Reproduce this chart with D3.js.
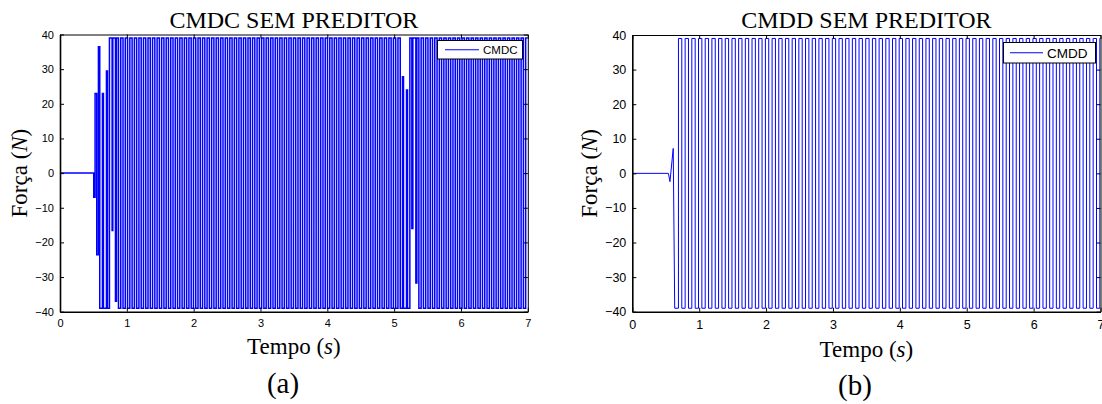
<!DOCTYPE html>
<html>
<head>
<meta charset="utf-8">
<script src="https://cdn.jsdelivr.net/npm/d3@7"></script>
<style>
  body { margin: 0; background: #fff; }
  svg { display: block; }
</style>
</head>
<body>
<svg id="fig" width="1102" height="404"></svg>
<script>
// values
const xTicks = [0, 1, 2, 3, 4, 5, 6, 7];
const yTicks = [-40, -30, -20, -10, 0, 10, 20, 30, 40];
const satHigh = 39;
const satLow = -39;

// CMDC: irregular stretches as [time, new level], regular stretches as switching times
const cmdcStart = [[0, 0], [0.505, -7], [0.525, 23], [0.55, -23.6], [0.575, 36.5], [0.595, -39],
  [0.635, 23], [0.65, -39], [0.695, 29.5], [0.71, -39], [0.74, 39], [0.78, -16.6], [0.79, 39],
  [0.83, -37], [0.845, 39]];
const cmdcSwitch1 = [0.875, 0.909, 0.943, 0.977, 1.011, 1.045, 1.079, 1.113, 1.147, 1.181, 1.215,
  1.249, 1.283, 1.317, 1.351, 1.385, 1.419, 1.453, 1.487, 1.521, 1.555, 1.589, 1.623, 1.657, 1.691,
  1.725, 1.759, 1.793, 1.827, 1.861, 1.895, 1.929, 1.963, 1.997, 2.031, 2.065, 2.099, 2.133, 2.167,
  2.201, 2.235, 2.269, 2.303, 2.337, 2.371, 2.405, 2.439, 2.473, 2.507, 2.541, 2.575, 2.609, 2.643,
  2.677, 2.711, 2.745, 2.779, 2.813, 2.847, 2.881, 2.915, 2.949, 2.983, 3.017, 3.051, 3.085, 3.119,
  3.153, 3.187, 3.221, 3.255, 3.289, 3.323, 3.357, 3.391, 3.425, 3.459, 3.493, 3.527, 3.561, 3.595,
  3.629, 3.663, 3.697, 3.731, 3.765, 3.799, 3.833, 3.867, 3.901, 3.935, 3.969, 4.003, 4.037, 4.071,
  4.105, 4.139, 4.173, 4.207, 4.241, 4.275, 4.309, 4.343, 4.377, 4.411, 4.445, 4.479, 4.513, 4.547,
  4.581, 4.615, 4.649, 4.683, 4.717, 4.751, 4.785, 4.819, 4.853, 4.887, 4.921, 4.955, 4.989, 5.023,
  5.057, 5.091];
const cmdcMid = [[5.125, 27.8], [5.14, -39], [5.185, 24], [5.2, -39], [5.235, 39], [5.265, -16],
  [5.28, 39], [5.325, -31.7], [5.34, 39]];
const cmdcSwitch2 = [5.370, 5.404, 5.438, 5.472, 5.506, 5.540, 5.574, 5.608, 5.642, 5.676, 5.710,
  5.744, 5.778, 5.812, 5.846, 5.880, 5.914, 5.948, 5.982, 6.016, 6.050, 6.084, 6.118, 6.152, 6.186,
  6.220, 6.254, 6.288, 6.322, 6.356, 6.390, 6.424, 6.458, 6.492, 6.526, 6.560, 6.594, 6.628, 6.662,
  6.696, 6.730, 6.764, 6.798, 6.832, 6.866, 6.900, 6.934, 6.968];

// CMDD: small wiggle as plain points, then switching times
const cmddStart = [[0, 0], [0.54, 0], [0.563, -2.4], [0.612, 7.2], [0.634, -39]];
const cmddSwitch = [0.69, 0.74, 0.79, 0.84, 0.89, 0.94, 0.99,
  1.04, 1.09, 1.14, 1.19, 1.24, 1.29, 1.34, 1.39, 1.44, 1.49, 1.54, 1.59, 1.64, 1.69, 1.74, 1.79, 1.84, 1.89, 1.94, 1.99,
  2.04, 2.09, 2.14, 2.19, 2.24, 2.29, 2.34, 2.39, 2.44, 2.49, 2.54, 2.59, 2.64, 2.69, 2.74, 2.79, 2.84, 2.89, 2.94, 2.99,
  3.04, 3.09, 3.14, 3.19, 3.24, 3.29, 3.34, 3.39, 3.44, 3.49, 3.54, 3.59, 3.64, 3.69, 3.74, 3.79, 3.84, 3.89, 3.94, 3.99,
  4.04, 4.09, 4.14, 4.19, 4.24, 4.29, 4.34, 4.39, 4.44, 4.49, 4.54, 4.59, 4.64, 4.69, 4.74, 4.79, 4.84, 4.89, 4.94, 4.99,
  5.04, 5.09, 5.14, 5.19, 5.24, 5.29, 5.34, 5.39, 5.44, 5.49, 5.54, 5.59, 5.64, 5.69, 5.74, 5.79, 5.84, 5.89, 5.94, 5.99,
  6.04, 6.09, 6.14, 6.19, 6.24, 6.29, 6.34, 6.39, 6.44, 6.49, 6.54, 6.59, 6.64, 6.69, 6.74, 6.79, 6.84, 6.89, 6.94, 6.99];

const tEnd = 7;
const serif = "'Liberation Serif', 'Times New Roman', serif";
const sans = "'Liberation Sans', Arial, sans-serif";

// turn steps / switches into polyline vertices
function addSteps(pts, steps) {
  steps.forEach(([t, v]) => {
    const prev = pts[pts.length - 1][1];
    pts.push([t, prev], [t, v]);
  });
}
function addSwitches(pts, times) {
  times.forEach(t => {
    const prev = pts[pts.length - 1][1];
    const next = prev === satHigh ? satLow : satHigh;
    pts.push([t, prev], [t, next]);
  });
}

const cmdcPts = [cmdcStart[0]];
addSteps(cmdcPts, cmdcStart.slice(1));
addSwitches(cmdcPts, cmdcSwitch1);
addSteps(cmdcPts, cmdcMid);
addSwitches(cmdcPts, cmdcSwitch2);
cmdcPts.push([tEnd, cmdcPts[cmdcPts.length - 1][1]]);

const cmddPts = cmddStart.slice();
addSwitches(cmddPts, cmddSwitch);
cmddPts.push([tEnd, cmddPts[cmddPts.length - 1][1]]);

const svg = d3.select("#fig");
svg.append("rect").attr("width", 1102).attr("height", 404).attr("fill", "#fff");

function panel(cfg) {
  const x = d3.scaleLinear().domain([0, 7]).range([cfg.left, cfg.right]);
  const y = d3.scaleLinear().domain([-40, 40]).range([cfg.bottom, cfg.top]);
  const g = svg.append("g");

  g.append("clipPath").attr("id", cfg.id + "-clip")
    .append("rect")
    .attr("x", cfg.left).attr("y", cfg.top)
    .attr("width", cfg.right - cfg.left).attr("height", cfg.bottom - cfg.top);

  g.append("path")
    .datum(cfg.points)
    .attr("clip-path", `url(#${cfg.id}-clip)`)
    .attr("fill", "none")
    .attr("stroke", "#0000ff")
    .attr("stroke-width", cfg.lineW)
    .attr("d", d3.line().x(d => x(d[0])).y(d => y(d[1])));

  // box with inward ticks on all sides
  const tl = 4;
  const fmt = d3.format("d");
  const axB = g.append("g").attr("transform", `translate(0,${cfg.bottom})`)
    .call(d3.axisBottom(x).tickValues(xTicks).tickFormat(fmt).tickSizeInner(-tl).tickSizeOuter(0).tickPadding(8));
  const axL = g.append("g").attr("transform", `translate(${cfg.left},0)`)
    .call(d3.axisLeft(y).tickValues(yTicks).tickFormat(fmt).tickSizeInner(-tl).tickSizeOuter(0).tickPadding(6));
  const axT = g.append("g").attr("transform", `translate(0,${cfg.top})`)
    .call(d3.axisTop(x).tickValues(xTicks).tickSizeInner(-tl).tickSizeOuter(0).tickFormat(""));
  const axR = g.append("g").attr("transform", `translate(${cfg.right},0)`)
    .call(d3.axisRight(y).tickValues(yTicks).tickSizeInner(-tl).tickSizeOuter(0).tickFormat(""));
  [axB, axL].forEach(a => a.select(".domain").attr("stroke-width", 1.6));
  [axT, axR].forEach(a => a.select(".domain").attr("stroke-width", 1));
  [axB, axL, axT, axR].forEach(a => a.selectAll(".tick line").attr("stroke", "#000"));
  [axB, axL].forEach(a => a.selectAll("text")
    .attr("font-family", sans).attr("font-size", cfg.tickSize).attr("fill", "#000"));

  // legend
  const lg = g.append("g");
  lg.append("rect")
    .attr("x", cfg.legX).attr("y", cfg.legY).attr("width", cfg.legW).attr("height", cfg.legH)
    .attr("fill", "#fff").attr("stroke", "#000").attr("stroke-width", 1);
  lg.append("line")
    .attr("x1", cfg.legX + cfg.legPad).attr("x2", cfg.legX + cfg.legPad + cfg.legLine)
    .attr("y1", cfg.legY + cfg.legH / 2).attr("y2", cfg.legY + cfg.legH / 2)
    .attr("stroke", "#0000ff").attr("stroke-width", 1);
  lg.append("text")
    .attr("x", cfg.legX + cfg.legPad + cfg.legLine + 4)
    .attr("y", cfg.legY + cfg.legH / 2)
    .attr("dy", "0.36em")
    .attr("font-family", sans).attr("font-size", cfg.legFont)
    .text(cfg.name);

  // title and labels
  const cx = (cfg.left + cfg.right) / 2;
  g.append("text").attr("x", cx).attr("y", 28)
    .attr("text-anchor", "middle").attr("font-family", serif).attr("font-size", 24)
    .text(cfg.title);

  const xl = g.append("text").attr("x", cx).attr("y", cfg.xLabY)
    .attr("text-anchor", "middle").attr("font-family", serif).attr("font-size", 23);
  xl.append("tspan").text("Tempo (");
  xl.append("tspan").attr("font-style", "italic").text("s");
  xl.append("tspan").text(")");

  const yl = g.append("text")
    .attr("transform", `translate(${cfg.yLabX},${(cfg.top + cfg.bottom) / 2}) rotate(-90)`)
    .attr("text-anchor", "middle").attr("font-family", serif).attr("font-size", 23);
  yl.append("tspan").text("Força (");
  yl.append("tspan").attr("font-style", "italic").text("N");
  yl.append("tspan").text(")");

  g.append("text").attr("x", cfg.capX).attr("y", cfg.capY)
    .attr("text-anchor", "middle").attr("font-family", serif).attr("font-size", 29)
    .text(cfg.caption);
}

panel({
  id: "a", points: cmdcPts, name: "CMDC", title: "CMDC SEM PREDITOR", caption: "(a)",
  left: 60, right: 527.8, top: 34.5, bottom: 311.7, tickSize: 11, lineW: 1.5,
  legX: 437.5, legY: 40.5, legW: 85, legH: 18.5, legPad: 7.5, legLine: 34, legFont: 11.5,
  xLabY: 353.5, yLabX: 27, capX: 283, capY: 393
});

panel({
  id: "b", points: cmddPts, name: "CMDD", title: "CMDD SEM PREDITOR", caption: "(b)",
  left: 632.3, right: 1100.5, top: 35, bottom: 311.7, tickSize: 12.5, lineW: 1,
  legX: 1003.5, legY: 42.5, legW: 92, legH: 20.5, legPad: 6.5, legLine: 33, legFont: 13.5,
  xLabY: 356.5, yLabX: 597, capX: 855, capY: 395
});
</script>
</body>
</html>
